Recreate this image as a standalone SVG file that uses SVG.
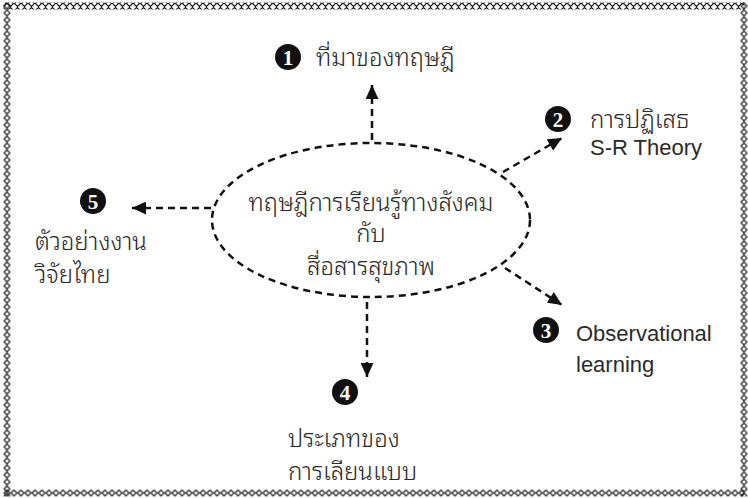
<svg xmlns="http://www.w3.org/2000/svg" width="748" height="498" viewBox="0 0 748 498">
<style>
.th{font-family:"Noto Sans Thai Looped","Noto Sans Thai","Noto Sans","DejaVu Sans",sans-serif;font-weight:300;font-size:24px;fill:#2a2a2a}
.en{font-family:"Liberation Sans",Arial,sans-serif;font-size:22px;fill:#2a2a2a}
.num{font-family:"Liberation Serif",serif;font-weight:bold;font-size:21px;fill:#fff;text-anchor:middle}
.badge{fill:#111}
.dash{fill:none;stroke:#111;stroke-width:2.5;stroke-dasharray:7 5}
</style>
<defs>
<pattern id="dia" patternUnits="userSpaceOnUse" width="7" height="7">
<path d="M0.5,3.5 L3.5,0.5 L6.5,3.5 L3.5,6.5 Z" fill="none" stroke="#111" stroke-width="1.1"/>
</pattern>
<marker id="ah" markerUnits="userSpaceOnUse" markerWidth="15" markerHeight="13" refX="14" refY="6.5" orient="auto">
<path d="M0,0 L14,6.5 L0,13 Z" fill="#111"/>
</marker>
</defs>
<g id="border">
<rect x="3.5" y="2.5" width="741" height="7" fill="url(#dia)"/>
<g transform="translate(3.5,489.5)"><rect width="741" height="7" fill="url(#dia)"/></g>
<g transform="translate(3.5,2.5)"><rect width="7" height="494" fill="url(#dia)"/></g>
<g transform="translate(740.5,2.5)"><rect width="7" height="494" fill="url(#dia)"/></g>
</g>
<g id="connectors">
<line class="dash" x1="372" y1="140" x2="372" y2="85" marker-end="url(#ah)"/>
<line class="dash" x1="503" y1="172" x2="562" y2="138" marker-end="url(#ah)"/>
<line class="dash" x1="505" y1="268" x2="562" y2="305" marker-end="url(#ah)"/>
<line class="dash" x1="367" y1="302" x2="367" y2="377" marker-end="url(#ah)"/>
<line class="dash" x1="211" y1="208" x2="132" y2="208" marker-end="url(#ah)"/>
</g>
<g id="center">
<ellipse class="dash" cx="371" cy="220" rx="159" ry="77"/>
<text class="th" x="371" y="211" text-anchor="middle">ทฤษฎีการเรียนรู้ทางสังคม</text>
<text class="th" x="371" y="242" text-anchor="middle">กับ</text>
<text class="th" x="371" y="275" text-anchor="middle">สื่อสารสุขภาพ</text>
</g>
<g id="node1">
<circle class="badge" cx="288" cy="57" r="13"/>
<text class="num" x="288" y="64.5">1</text>
<text class="th" x="316" y="66">ที่มาของทฤษฎี</text>
</g>
<g id="node2">
<circle class="badge" cx="558" cy="119" r="13"/>
<text class="num" x="558" y="126.5">2</text>
<text class="th" x="590" y="128">การปฏิเสธ</text>
<text class="en" x="590" y="155">S-R Theory</text>
</g>
<g id="node3">
<circle class="badge" cx="546" cy="330" r="13"/>
<text class="num" x="546" y="337.5">3</text>
<text class="en" x="576" y="341">Observational</text>
<text class="en" x="576" y="372">learning</text>
</g>
<g id="node4">
<circle class="badge" cx="345" cy="392" r="13"/>
<text class="num" x="345" y="399.5">4</text>
<text class="th" x="288" y="447">ประเภทของ</text>
<text class="th" x="288" y="480">การเลียนแบบ</text>
</g>
<g id="node5">
<circle class="badge" cx="93" cy="201" r="13"/>
<text class="num" x="93" y="208.5">5</text>
<text class="th" x="35" y="250">ตัวอย่างงาน</text>
<text class="th" x="35" y="283">วิจัยไทย</text>
</g>
</svg>
